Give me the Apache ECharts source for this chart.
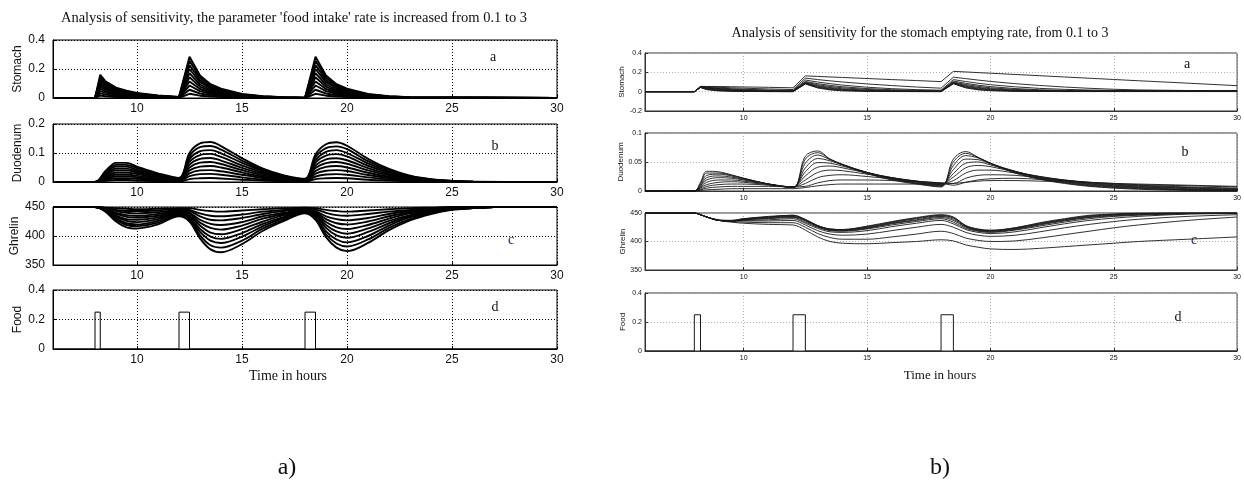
<!DOCTYPE html>
<html><head><meta charset="utf-8">
<script src="https://cdn.jsdelivr.net/npm/echarts@6/dist/echarts.min.js"></script>
<style>html,body{margin:0;padding:0;background:#fff}#c{width:1244px;height:492px}</style>
</head><body><div id="c"></div>
<script>
// ---------------- DATA ----------------
const titleA = "Analysis of sensitivity, the parameter 'food intake' rate is increased from 0.1 to 3";
const titleB = "Analysis of sensitivity for the stomach emptying rate, from 0.1 to 3";
const xName = "Time in hours";
const rowNames = ["Stomach", "Duodenum", "Ghrelin", "Food"];
const rowLetters = ["a", "b", "c", "d"];
const panelTags = ["a)", "b)"];

// food intake pulses (both panels)
const mealStart = [8, 12, 18];
const mealEnd = [8.25, 12.5, 18.5];
const mealSize = [0.25, 0.25, 0.25];

// ---- panel a) : food intake rate varied (outer curve first) ----
const tStomachA = [6,8,8.25,8.5,9,9.5,10,11,12,12.5,13,13.5,14,15,16,17,18,18.5,19,19.5,20,21,22,23,30];
const stomachA = [
 [0,0,.16,.115,.072,.05,.035,.017,.008,.285,.155,.095,.064,.028,.012,.005,.002,.285,.155,.095,.064,.028,.012,.005,0],
 [0,0,.144,.104,.065,.045,.032,.015,.007,.257,.14,.086,.058,.025,.011,.005,.002,.257,.14,.086,.058,.025,.011,.005,0],
 [0,0,.128,.092,.058,.04,.028,.014,.006,.228,.124,.076,.051,.022,.01,.004,.002,.228,.124,.076,.051,.022,.01,.004,0],
 [0,0,.112,.081,.05,.035,.025,.012,.006,.2,.109,.067,.045,.02,.008,.004,.001,.2,.109,.067,.045,.02,.008,.004,0],
 [0,0,.096,.069,.043,.03,.021,.01,.005,.171,.093,.057,.038,.017,.007,.003,.001,.171,.093,.057,.038,.017,.007,.003,0],
 [0,0,.08,.058,.036,.025,.018,.009,.004,.143,.078,.048,.032,.014,.006,.003,.001,.143,.078,.048,.032,.014,.006,.003,0],
 [0,0,.064,.046,.029,.02,.014,.007,.003,.114,.062,.038,.026,.011,.005,.002,.001,.114,.062,.038,.026,.011,.005,.002,0],
 [0,0,.048,.035,.022,.015,.011,.005,.002,.086,.047,.029,.019,.008,.004,.002,.001,.086,.047,.029,.019,.008,.004,.002,0],
 [0,0,.032,.023,.014,.01,.007,.003,.002,.057,.031,.019,.013,.006,.002,.001,0,.057,.031,.019,.013,.006,.002,.001,0],
 [0,0,.016,.012,.007,.005,.004,.002,.001,.029,.016,.01,.006,.003,.001,.001,0,.029,.016,.01,.006,.003,.001,.001,0]
];
const tDuodenumA = [6,8,8.5,9,9.5,10,11,12,12.5,13,13.5,14,15,16,17,18,18.5,19,19.5,20,21,22,23,24,25,26,30];
const duodenumA = [
 [0,0,.038,.066,.066,.053,.03,.014,.1,.133,.138,.124,.082,.046,.023,.011,.095,.13,.137,.125,.08,.045,.022,.01,.004,.001,0],
 [0,0,.034,.059,.059,.048,.027,.013,.09,.12,.124,.112,.074,.041,.021,.01,.086,.117,.123,.113,.072,.041,.02,.009,.004,.001,0],
 [0,0,.03,.053,.053,.042,.024,.011,.08,.106,.11,.099,.066,.037,.018,.009,.076,.104,.11,.1,.064,.036,.018,.008,.003,.001,0],
 [0,0,.027,.046,.046,.037,.021,.01,.07,.093,.097,.087,.057,.032,.016,.008,.067,.091,.096,.088,.056,.032,.015,.007,.003,.001,0],
 [0,0,.023,.04,.04,.032,.018,.008,.06,.08,.083,.074,.049,.028,.014,.007,.057,.078,.082,.075,.048,.027,.013,.006,.002,.001,0],
 [0,0,.019,.033,.033,.027,.015,.007,.05,.067,.069,.062,.041,.023,.012,.006,.048,.065,.069,.063,.04,.023,.011,.005,.002,0,0],
 [0,0,.015,.026,.026,.021,.012,.006,.04,.053,.055,.05,.033,.018,.009,.004,.038,.052,.055,.05,.032,.018,.009,.004,.002,0,0],
 [0,0,.011,.02,.02,.016,.009,.004,.03,.04,.041,.037,.025,.014,.007,.003,.029,.039,.041,.038,.024,.014,.007,.003,.001,0,0],
 [0,0,.008,.013,.013,.011,.006,.003,.02,.027,.028,.025,.016,.009,.005,.002,.019,.026,.027,.025,.016,.009,.004,.002,.001,0,0],
 [0,0,.004,.007,.007,.005,.003,.001,.01,.013,.014,.012,.008,.005,.002,.001,.01,.013,.014,.013,.008,.005,.002,.001,0,0,0]
];
const tGhrelinA = [6,8,8.5,9,9.5,10,11,12,12.5,13,13.5,14,15,16,17,18,18.5,19,19.5,20,21,22,23,24,25,26,27,30];
const ghrelinA = [
 [450,450,442,425,415,413,420,434,425,396,377,372,386,409,426,439,428,398,380,374,388,410,427,438,445,448,450,450],
 [450,450,443,428,419,417,423,436,428,401,384,380,392,413,428,440,430,403,387,382,394,414,429,439,446,448,450,450],
 [450,450,444,430,422,420,426,437,430,407,392,388,399,417,431,441,432,408,394,389,400,418,432,440,446,448,450,450],
 [450,450,444,433,426,424,429,439,433,412,399,395,405,421,433,442,435,414,401,397,407,422,434,442,447,449,450,450],
 [450,450,445,435,429,428,432,440,435,418,406,403,412,425,436,443,437,419,408,404,413,426,436,443,447,449,450,450],
 [450,450,446,438,433,432,435,442,438,423,414,411,418,430,438,445,439,424,415,412,419,430,439,444,448,449,450,450],
 [450,450,447,440,436,435,438,444,440,428,421,419,424,434,440,446,441,429,422,420,425,434,441,445,448,449,450,450],
 [450,450,448,443,440,439,441,445,443,434,428,427,431,438,443,447,443,434,429,427,431,438,443,446,449,449,450,450],
 [450,450,448,445,443,443,444,447,445,439,435,434,437,442,445,448,446,440,436,435,438,442,445,448,449,450,450,450],
 [450,450,449,448,447,446,447,448,448,445,443,442,444,446,448,449,448,445,443,442,444,446,448,449,450,450,450,450]
];

// ---- panel b) : stomach emptying rate varied ----
const tB = [6,8,8.25,8.5,9,9.5,10,11,12,12.5,13,13.5,14,15,16,17,18,18.5,19,19.5,20,21,22,23,24,25,26,28,30];
const stomachB = [
 [0,0,.055,.054,.053,.051,.049,.045,.04,.163,.158,.152,.147,.136,.125,.115,.104,.21,.204,.197,.191,.178,.165,.152,.139,.126,.113,.088,.062],
 [0,0,.053,.05,.045,.04,.036,.028,.022,.14,.125,.112,.1,.08,.063,.048,.036,.15,.135,.12,.106,.083,.064,.048,.035,.025,.018,.012,.01],
 [0,0,.05,.045,.037,.03,.025,.017,.012,.12,.1,.083,.068,.046,.031,.021,.015,.125,.105,.087,.072,.05,.034,.024,.017,.013,.011,.01,.01],
 [0,0,.049,.042,.032,.025,.019,.012,.008,.105,.083,.065,.051,.032,.02,.013,.009,.11,.086,.067,.052,.032,.02,.013,.009,.007,.006,.005,.005],
 [0,0,.048,.038,.027,.02,.014,.008,.005,.098,.072,.053,.04,.023,.013,.008,.006,.1,.074,.055,.04,.023,.013,.008,.006,.005,.005,.005,.005],
 [0,0,.047,.034,.022,.015,.01,.005,.003,.092,.062,.043,.03,.015,.008,.005,.004,.094,.064,.044,.031,.016,.009,.006,.005,.005,.005,.005,.005],
 [0,0,.046,.03,.018,.011,.007,.003,.002,.088,.055,.035,.023,.01,.005,.003,.003,.09,.057,.036,.024,.011,.006,.004,.004,.004,.004,.004,.004],
 [0,0,.045,.027,.014,.008,.005,.002,.001,.085,.048,.028,.017,.007,.003,.002,.002,.087,.05,.029,.018,.008,.004,.003,.003,.003,.003,.003,.003],
 [0,0,.044,.024,.011,.006,.003,.001,.001,.082,.043,.022,.012,.005,.002,.001,.001,.084,.044,.023,.013,.005,.003,.002,.002,.002,.002,.002,.002],
 [0,0,.043,.021,.008,.004,.002,.001,0,.08,.038,.018,.009,.003,.001,.001,0,.082,.039,.019,.01,.004,.002,.001,.001,.001,.001,.001,.001]
];
const duodenumB = [
 [0,0,.015,.034,.033,.028,.022,.012,.006,.06,.069,.055,.045,.03,.019,.012,.007,.055,.068,.058,.047,.031,.02,.013,.008,.005,.003,.001,0],
 [0,0,.013,.031,.031,.027,.022,.012,.006,.055,.066,.055,.046,.031,.02,.013,.008,.05,.065,.058,.048,.032,.021,.014,.009,.006,.004,.002,.001],
 [0,0,.011,.027,.029,.026,.021,.012,.006,.048,.062,.054,.046,.032,.021,.014,.009,.044,.061,.057,.048,.033,.022,.015,.01,.007,.005,.002,.001],
 [0,0,.009,.023,.026,.024,.02,.012,.006,.04,.056,.052,.045,.032,.022,.015,.01,.037,.055,.054,.047,.034,.023,.016,.011,.008,.006,.003,.002],
 [0,0,.008,.019,.023,.022,.019,.012,.007,.033,.049,.048,.043,.032,.023,.016,.011,.03,.048,.05,.045,.034,.024,.017,.012,.009,.007,.004,.002],
 [0,0,.006,.015,.019,.019,.017,.012,.007,.026,.041,.043,.04,.031,.023,.017,.012,.024,.04,.044,.042,.033,.025,.018,.013,.01,.008,.005,.003],
 [0,0,.005,.011,.015,.016,.015,.011,.007,.019,.032,.036,.035,.029,.023,.017,.013,.018,.031,.036,.036,.031,.025,.019,.014,.011,.009,.006,.004],
 [0,0,.003,.008,.011,.012,.012,.01,.007,.013,.023,.027,.028,.025,.021,.017,.014,.013,.022,.027,.028,.027,.023,.019,.015,.012,.01,.007,.005],
 [0,0,.002,.005,.007,.008,.008,.008,.007,.008,.014,.018,.019,.019,.018,.016,.014,.01,.015,.019,.021,.022,.02,.018,.015,.013,.011,.009,.007],
 [0,0,.001,.002,.003,.004,.004,.004,.004,.006,.009,.011,.012,.012,.012,.012,.012,.013,.015,.017,.018,.018,.017,.016,.015,.013,.012,.01,.008]
];
const ghrelinB = [
 [450,450,447,443,437,434,432,430,429,420,408,400,397,396,398,400,403,401,394,390,387,386,388,391,394,397,400,404,408],
 [450,450,447,443,437,435,434,433,433,425,414,407,404,404,408,413,418,414,406,402,400,401,406,412,418,424,429,437,443],
 [450,450,447,443,437,436,436,436,437,429,419,413,411,413,419,425,430,425,416,411,409,411,417,424,430,435,439,444,447],
 [450,450,447,443,437,436,437,438,440,432,423,417,416,419,426,432,437,431,421,416,414,417,424,431,437,441,444,448,449],
 [450,450,447,443,437,436,438,440,442,434,425,419,418,422,429,435,440,434,423,418,416,420,427,434,440,444,446,449,450],
 [450,450,447,443,437,436,438,441,443,436,426,420,419,423,431,437,442,437,425,419,417,421,429,436,442,445,447,449,450],
 [450,450,447,443,437,436,439,442,444,437,427,421,420,424,432,438,444,439,426,420,418,422,430,437,443,446,448,450,450],
 [450,450,447,443,437,436,439,443,445,438,427,421,420,425,433,440,445,441,427,421,419,423,431,438,444,447,449,450,450],
 [450,450,447,443,437,437,440,443,446,438,428,422,421,426,434,441,446,442,428,421,419,424,432,439,445,448,449,450,450],
 [450,450,447,443,438,437,440,444,446,439,428,422,421,427,435,442,447,443,428,422,420,424,433,440,446,448,450,450,450]
];

// ---------------- LAYOUT / STYLE ----------------
const panels = [
  { left:53, width:504, tops:[40,124,207,290], hs:[58,58,58,59], tick:12, nameFont:12, nameGap:29,
    labMarginX:5, labMarginY:8, gridColor:'#000', border:'#000', lineColor:'#000', lineW:1.9,
    yr:[[0,0.4,0.2],[0,0.2,0.1],[350,450,50],[0,0.4,0.2]],
    sets:[{t:tStomachA,rows:stomachA,smooth:false},{t:tDuodenumA,rows:duodenumA,smooth:0.35},{t:tGhrelinA,rows:ghrelinA,smooth:0.35},{food:true}],
    letterPos:[[493,57],[495,146],[511,240],[495,307]] },
  { left:645, width:594, tops:[53,133,213,293], hs:[58,58,57,58], tick:7, nameFont:8, nameGap:18,
    labMarginX:4, labMarginY:3, gridColor:'#b0b0b0', border:'#333', lineColor:'#1a1a1a', lineW:0.9,
    yr:[[-0.2,0.4,0.2],[0,0.1,0.05],[350,450,50],[0,0.4,0.2]],
    sets:[{t:tB,rows:stomachB,smooth:false},{t:tB,rows:duodenumB,smooth:0.35},{t:tB,rows:ghrelinB,smooth:0.35},{food:true}],
    letterPos:[[1187,64],[1185,152],[1194,240],[1178,317]] }
];

function foodData(){
  const d = [[6,0]];
  mealStart.forEach((s,i)=>{ d.push([s,0],[s,mealSize[i]],[mealEnd[i],mealSize[i]],[mealEnd[i],0]); });
  d.push([30,0]);
  return d;
}

const grids=[], xAxes=[], yAxes=[], series=[];
panels.forEach(P=>{
  for(let i=0;i<4;i++){
    const gi = grids.length;
    grids.push({left:P.left, top:P.tops[i], width:P.width, height:P.hs[i], show:true,
      borderColor:P.border, borderWidth:1, backgroundColor:'transparent', containLabel:false});
    xAxes.push({type:'value', gridIndex:gi, min:6, max:30, splitNumber:5,
      axisLine:{show:true, onZero:false, lineStyle:{color:P.border, width:1}},
      axisTick:{show:true, inside:true, length:3, lineStyle:{color:P.border}},
      axisLabel:{show:true, showMinLabel:false, fontSize:P.tick, color:'#111', margin:P.labMarginX,
        fontFamily:'Liberation Sans, Arial, sans-serif'},
      splitLine:{show:true, lineStyle:{color:P.gridColor, width:1, type:[1,2]}}});
    const yr = P.yr[i];
    yAxes.push({type:'value', gridIndex:gi, min:yr[0], max:yr[1], interval:yr[2],
      name:rowNames[i], nameLocation:'middle', nameGap:P.nameGap,
      nameTextStyle:{fontSize:P.nameFont, color:'#111', fontFamily:'Liberation Sans, Arial, sans-serif'},
      axisLine:{show:true, lineStyle:{color:P.border, width:1}},
      axisTick:{show:true, inside:true, length:3, lineStyle:{color:P.border}},
      axisLabel:{fontSize:P.tick, color:'#111', margin:P.labMarginY, fontFamily:'Liberation Sans, Arial, sans-serif'},
      splitLine:{show:true, lineStyle:{color:P.gridColor, width:1, type:[1,2]}}});
    const set = P.sets[i];
    if(set.food){
      series.push({type:'line', xAxisIndex:gi, yAxisIndex:gi, data:foodData(), symbol:'none',
        lineStyle:{color:P.lineColor, width:1}, silent:true, animation:false});
    } else {
      set.rows.forEach(r=>{
        series.push({type:'line', xAxisIndex:gi, yAxisIndex:gi, data:set.t.map((x,j)=>[x,r[j]]),
          symbol:'none', smooth:set.smooth, lineStyle:{color:P.lineColor, width:P.lineW},
          silent:true, animation:false});
      });
    }
  }
});

const serif = 'Liberation Serif, Times New Roman, serif';
function txt(x,y,s,size,color){
  return {type:'text', x:x, y:y, style:{text:s, font:size+'px '+serif, fill:color||'#111', align:'center', verticalAlign:'middle'}};
}
const g = [
  txt(294,18,titleA,14.5),
  txt(920,33,titleB,14),
  txt(288,376,xName,14),
  txt(940,376,xName,13),
  txt(287,468,panelTags[0],24),
  txt(940,468,panelTags[1],24)
];
panels.forEach(P=>{
  P.letterPos.forEach((p,i)=>{ g.push(txt(p[0],p[1],rowLetters[i],14,i===2?'#1c2a6a':'#111')); });
});

const chart = echarts.init(document.getElementById('c'), null, {renderer:'canvas', width:1244, height:492});
chart.setOption({
  animation:false,
  backgroundColor:'#fff',
  grid:grids, xAxis:xAxes, yAxis:yAxes, series:series,
  graphic:{elements:g}
});
</script>
</body></html>
